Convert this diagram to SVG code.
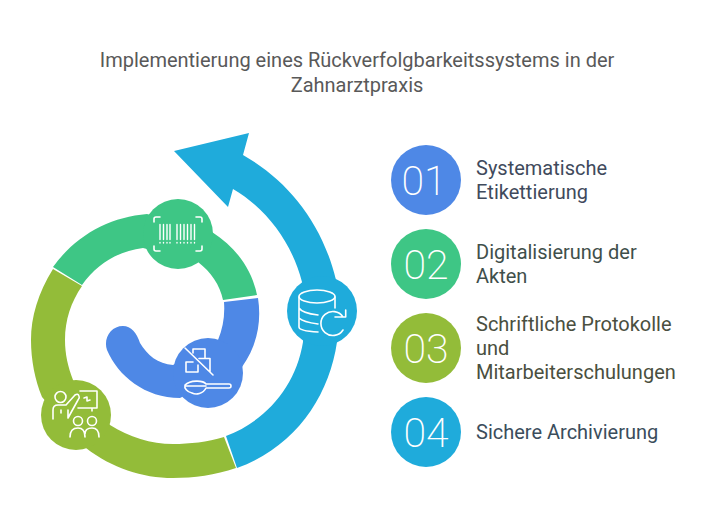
<svg xmlns="http://www.w3.org/2000/svg" width="702" height="529" viewBox="0 0 702 529">
<style>
.t{font-family:Roboto,"Liberation Sans",sans-serif;font-size:20px}
.title{fill:#595959;text-anchor:middle}
.n{font-family:Roboto,"Liberation Sans",sans-serif;font-size:41px;font-weight:200;fill:#fff;text-anchor:middle}
.i{fill:none;stroke:#fff;stroke-width:1.600;stroke-linecap:round;stroke-linejoin:round}
.b{fill:#4e88e6}.g{fill:#3ec685}.o{fill:#93bc39}.s{fill:#1fabdb}
</style>
<rect width="702" height="529" fill="#fff"/>
<g id="title">
<text class="t title" x="357" y="67">Implementierung eines Rückverfolgbarkeitssystems in der</text>
<text class="t title" x="357" y="92">Zahnarztpraxis</text>
</g>
<g id="connectors">
<path class="s" d="M237,468 C295,447 329,397 337,342 L336,280 C322,222 287,180 243,155 L249,133 L174,151 L228,207 L233,189 C267,209 292,243 302,282 L303,342 C296,386 266,421 226,436 Z"/>
<path class="o" d="M53,269 C38,293 31,317 31,340 C31,360 35,380 42,397 L86,448 C112,468 142,478 173,478 C194,478 215,475 236,468 L224,437 C207,442 190,444 173,444 C151,444 129,437 110,425 L73,380 C68,367 65,354 65,340 C65,320 71,302 82,286 Z"/>
<path class="g" d="M53,267 C76,235 110,217 147,214 L212,232 C237,248 252,270 257,295 L223,300 C220,285 211,272 198,262 L143,248 C118,251 97,264 82,285 Z"/>
<path class="b" d="M258,298 C262,324 256,347 242,367 L180,398 C145,398 118,376 107,350 C103,338 111,326 123,326 C131,326 137,333 140,343 C147,355 158,364 173,365 L218,340 C223,328 225,316 224,302 Z"/>
</g>
<g id="node-etikett">
<circle class="g" cx="178" cy="234" r="35"/>
<path class="i" d="M154,222V219Q154,217 156,217H160M196,217H200Q202,217 202,219V222M202,246V249Q202,251 200,251H196M160,251H156Q154,251 154,249V246"/>
<path class="i" stroke-dasharray="15 3 .5 30" d="M160,224.500V243M163.500,224.500V243M167,224.500V243M170,224.500V243M177,224.500V243M180.500,224.500V243M184,224.500V243M187.500,224.500V243M191,224.500V243M194.500,224.500V243" style="stroke-width:1.400"/>
</g>
<g id="node-akten">
<circle class="b" cx="208" cy="373" r="35"/>
<path class="i" d="M185,348L213,375M193,349H205V358.500H210V372M205,358.500H199M193,349V353M193,362H186V372H198V365"/>
<path class="i" d="M185,385C190,380 203,380 206,384H229Q231,384 231,386T229,388H206C203,394 196,395 192,393C187,392 184,388 185,385ZM185,386H206"/>
</g>
<g id="node-schulung">
<circle class="o" cx="76" cy="415" r="35"/>
<circle class="i" cx="60.500" cy="397" r="5.500"/>
<path class="i" d="M53,419V410Q53,405 58,405H66L75,395Q78,393 79,396Q80,398 78,400L68,418V410M61,410V413"/>
<path class="i" d="M80,391H97V408H78M92,408V411M84,398L87,397L87,401L90,400"/>
<circle class="i" cx="78" cy="421" r="4.500"/><circle class="i" cx="92" cy="421" r="4.500"/>
<path class="i" d="M70,437Q70,428 78,428Q85,428 85,437M85,434Q85,428 92,428Q99,428 99,437"/>
</g>
<g id="node-archiv">
<circle class="s" cx="322" cy="311" r="35"/>
<ellipse class="i" cx="317" cy="296.500" rx="18" ry="6.500"/>
<path class="i" d="M299,297V327Q299,331 318,332M335,297V308M299,308Q302,313 318,315M299,318Q303,322 318,324"/>
<path class="i" d="M343,317A12,12 0 1 0 343,330M335,317H345.700V310"/>
</g>
<g id="item-1"><circle class="b" cx="426" cy="180" r="35"/><text class="n" x="424" y="195">01</text>
<text class="t" x="476" y="175" fill="#3f4a5c">Systematische</text><text class="t" x="476" y="199" fill="#3f4a5c">Etikettierung</text></g>
<g id="item-2"><circle class="g" cx="426" cy="264" r="35"/><text class="n" x="426" y="279">02</text>
<text class="t" x="476" y="259" fill="#3f4f4b">Digitalisierung der</text><text class="t" x="476" y="283" fill="#3f4f4b">Akten</text></g>
<g id="item-3"><circle class="o" cx="426" cy="348" r="35"/><text class="n" x="426" y="363">03</text>
<text class="t" x="476" y="331" fill="#4a4f40">Schriftliche Protokolle</text><text class="t" x="476" y="355" fill="#4a4f40">und</text><text class="t" x="476" y="379" fill="#4a4f40">Mitarbeiterschulungen</text></g>
<g id="item-4"><circle class="s" cx="426" cy="432" r="35"/><text class="n" x="426" y="447">04</text>
<text class="t" x="476" y="439" fill="#3b4d5c">Sichere Archivierung</text></g>
</svg>
